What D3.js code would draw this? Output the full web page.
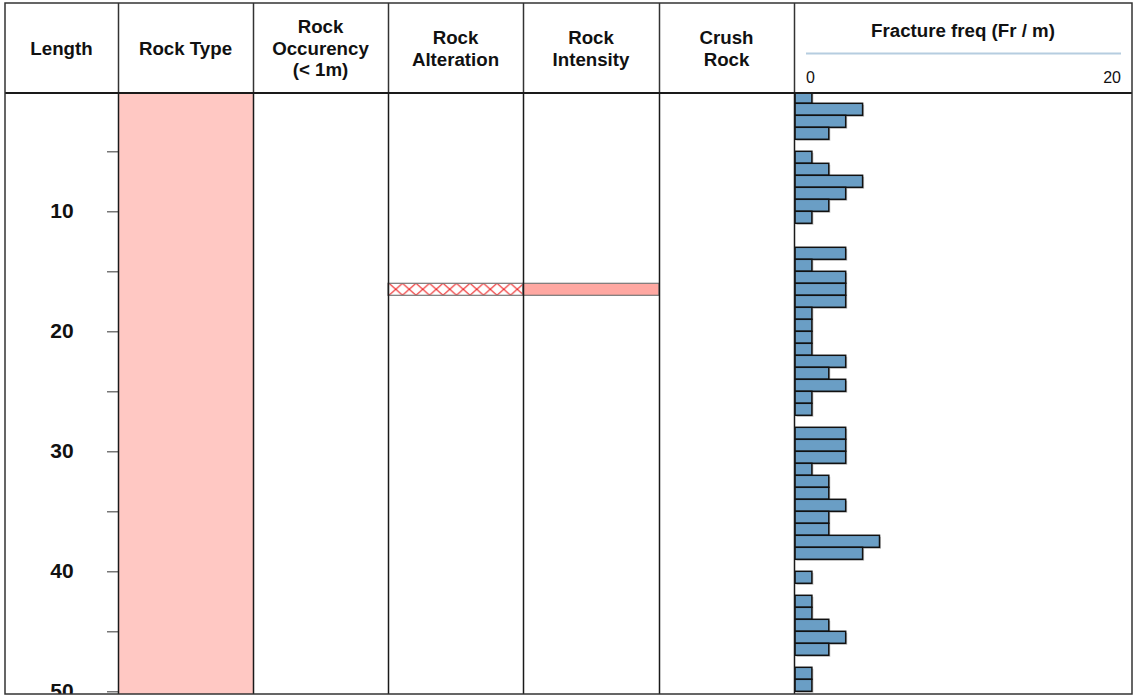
<!DOCTYPE html>
<html>
<head>
<meta charset="utf-8">
<script src="https://cdn.jsdelivr.net/npm/d3@7"></script>
<style>
  body { margin: 0; background: #fff; }
  text { font-family: "Liberation Sans", Arial, sans-serif; fill: #111; }
  .head { font-weight: bold; font-size: 18.7px; }
  .depth-label { font-weight: bold; font-size: 21px; }
  .ff-label { font-size: 16px; }
</style>
</head>
<body>
<div id="chart"></div>
<script>
// column headers (lines of text)
const headers = [
  ['Length'],
  ['Rock Type'],
  ['Rock', 'Occurency', '(< 1m)'],
  ['Rock', 'Alteration'],
  ['Rock', 'Intensity'],
  ['Crush', 'Rock'],
];
const fractureTitle = 'Fracture freq (Fr / m)';
const fractureTicks = [0, 20];

// intervals in metres
const rockType = [{ from: 0, to: 51 }];
const alteration = [{ from: 16, to: 17 }];
const intensity = [{ from: 16, to: 17 }];

// fracture frequency per metre, starting at 0 m
const fractureFreq = [
  1, 4, 3, 2, 0, 1, 2, 4, 3, 2,
  1, 0, 0, 3, 1, 3, 3, 3, 1, 1,
  1, 1, 3, 2, 3, 1, 1, 0, 3, 3,
  3, 1, 2, 2, 3, 2, 2, 5, 4, 0,
  1, 0, 1, 1, 2, 3, 2, 0, 1, 1,
];

const width = 1133;
const height = 697;
const frame = { left: 5, top: 3, right: 1132, bottom: 694 };
const headBottom = 93;
const colEdges = [5, 118, 253, 388, 523, 659, 794, 1132];

const svg = d3.select('#chart')
  .append('svg')
    .attr('width', width)
    .attr('height', height);

const defs = svg.append('defs');

defs.append('clipPath')
    .attr('id', 'body-clip')
  .append('rect')
    .attr('x', frame.left)
    .attr('y', headBottom)
    .attr('width', frame.right - frame.left)
    .attr('height', frame.bottom - headBottom);

const hatch = defs.append('pattern')
  .attr('id', 'hatch')
  .attr('patternUnits', 'userSpaceOnUse')
  .attr('x', 389)
  .attr('y', 283.3)
  .attr('width', 13.5)
  .attr('height', 12);
hatch.append('rect')
  .attr('width', 13.5)
  .attr('height', 12)
  .attr('fill', '#fff');
hatch.append('path')
  .attr('d', 'M0,0L13.5,12M13.5,0L0,12')
  .attr('stroke', '#ee1c1c')
  .attr('stroke-width', 1);

const y = d3.scaleLinear()
  .domain([0, 50])
  .range([91.3, 691.3]);

const x = d3.scaleLinear()
  .domain([0, 20])
  .range([795, 1133]);

const xHead = d3.scaleLinear()
  .domain([0, 20])
  .range([806, 1121]);

const body = svg.append('g')
  .attr('clip-path', 'url(#body-clip)');

// rock type column
body.selectAll('.rock-type')
  .data(rockType)
  .enter()
  .append('rect')
    .attr('class', 'rock-type')
    .attr('x', colEdges[1])
    .attr('width', colEdges[2] - colEdges[1])
    .attr('y', d => y(d.from))
    .attr('height', d => y(d.to) - y(d.from))
    .attr('fill', '#ffc8c3');

// alteration
body.selectAll('.alteration')
  .data(alteration)
  .enter()
  .append('rect')
    .attr('class', 'alteration')
    .attr('x', colEdges[3])
    .attr('width', colEdges[4] - colEdges[3])
    .attr('y', d => y(d.from))
    .attr('height', d => y(d.to) - y(d.from))
    .attr('fill', 'url(#hatch)')
    .attr('stroke', '#777')
    .attr('stroke-width', 1.2);

// intensity
body.selectAll('.intensity')
  .data(intensity)
  .enter()
  .append('rect')
    .attr('class', 'intensity')
    .attr('x', colEdges[4])
    .attr('width', colEdges[5] - colEdges[4])
    .attr('y', d => y(d.from))
    .attr('height', d => y(d.to) - y(d.from))
    .attr('fill', '#ffa8a2')
    .attr('stroke', '#777')
    .attr('stroke-width', 1.2);

// fracture frequency bars
const bars = fractureFreq
  .map((v, i) => ({ from: i, to: i + 1, value: v }))
  .filter(d => d.value > 0);

body.selectAll('.bar-shadow')
  .data(bars)
  .enter()
  .append('rect')
    .attr('class', 'bar-shadow')
    .attr('x', x(0) + 1.5)
    .attr('y', d => y(d.from) + 1.5)
    .attr('width', d => x(d.value) - x(0))
    .attr('height', d => y(d.to) - y(d.from))
    .attr('fill', '#999')
    .attr('opacity', 0.6);

body.selectAll('.bar')
  .data(bars)
  .enter()
  .append('rect')
    .attr('class', 'bar')
    .attr('x', x(0))
    .attr('y', d => y(d.from))
    .attr('width', d => x(d.value) - x(0))
    .attr('height', d => y(d.to) - y(d.from))
    .attr('fill', '#6a9ec5')
    .attr('stroke', '#111')
    .attr('stroke-width', 1.5);

// depth axis
const depthAxis = d3.axisLeft(y)
  .tickValues(d3.range(0, 55, 5))
  .tickSize(11)
  .tickFormat(d => (d % 10 === 0 && d > 0 ? d : ''));

const axisG = body.append('g')
  .attr('transform', `translate(${colEdges[1]},0)`)
  .call(depthAxis);

axisG.select('.domain').remove();
axisG.selectAll('.tick line')
  .attr('stroke', '#555')
  .attr('stroke-width', 1.2);
axisG.selectAll('.tick text')
  .attr('class', 'depth-label')
  .attr('x', 62 - colEdges[1])
  .attr('dy', '0.3em')
  .attr('text-anchor', 'middle')
  .attr('fill', '#111');

// column dividers in body
svg.append('g')
  .selectAll('line')
  .data(colEdges.slice(1, -1))
  .enter()
  .append('line')
    .attr('x1', d => d + 0.5)
    .attr('x2', d => d + 0.5)
    .attr('y1', headBottom)
    .attr('y2', frame.bottom)
    .attr('stroke', '#1a1a1a')
    .attr('stroke-width', 1.5);

// headers
const head = svg.append('g');

head.selectAll('.head-div')
  .data(colEdges.slice(1, -1))
  .enter()
  .append('line')
    .attr('class', 'head-div')
    .attr('x1', d => d + 0.5)
    .attr('x2', d => d + 0.5)
    .attr('y1', frame.top)
    .attr('y2', headBottom)
    .attr('stroke', '#333')
    .attr('stroke-width', 1.5);

const lineGap = 21.6;
const headMid = (frame.top + headBottom) / 2 + 6.8;

headers.forEach((lines, i) => {
  const cx = (colEdges[i] + colEdges[i + 1]) / 2;
  head.append('text')
    .attr('class', 'head')
    .attr('text-anchor', 'middle')
    .selectAll('tspan')
    .data(lines)
    .enter()
    .append('tspan')
      .attr('x', cx)
      .attr('y', (d, j) => headMid + (j - (lines.length - 1) / 2) * lineGap)
      .text(d => d);
});

head.append('text')
  .attr('class', 'head')
  .attr('text-anchor', 'middle')
  .attr('x', (colEdges[6] + colEdges[7]) / 2)
  .attr('y', 37)
  .text(fractureTitle);

head.append('line')
  .attr('x1', xHead.range()[0])
  .attr('x2', xHead.range()[1])
  .attr('y1', 53.5)
  .attr('y2', 53.5)
  .attr('stroke', '#b6cde0')
  .attr('stroke-width', 2);

head.selectAll('.ff-label')
  .data(fractureTicks)
  .enter()
  .append('text')
    .attr('class', 'ff-label')
    .attr('x', d => xHead(d))
    .attr('y', 82.5)
    .attr('text-anchor', (d, i) => (i === 0 ? 'start' : 'end'))
    .text(d => d);

// header bottom line
svg.append('line')
  .attr('x1', frame.left)
  .attr('x2', frame.right)
  .attr('y1', headBottom)
  .attr('y2', headBottom)
  .attr('stroke', '#1a1a1a')
  .attr('stroke-width', 2);

// frame
svg.append('rect')
  .attr('x', frame.left)
  .attr('y', frame.top)
  .attr('width', frame.right - frame.left)
  .attr('height', frame.bottom - frame.top)
  .attr('fill', 'none')
  .attr('stroke', '#333')
  .attr('stroke-width', 1.5);
</script>
</body>
</html>
